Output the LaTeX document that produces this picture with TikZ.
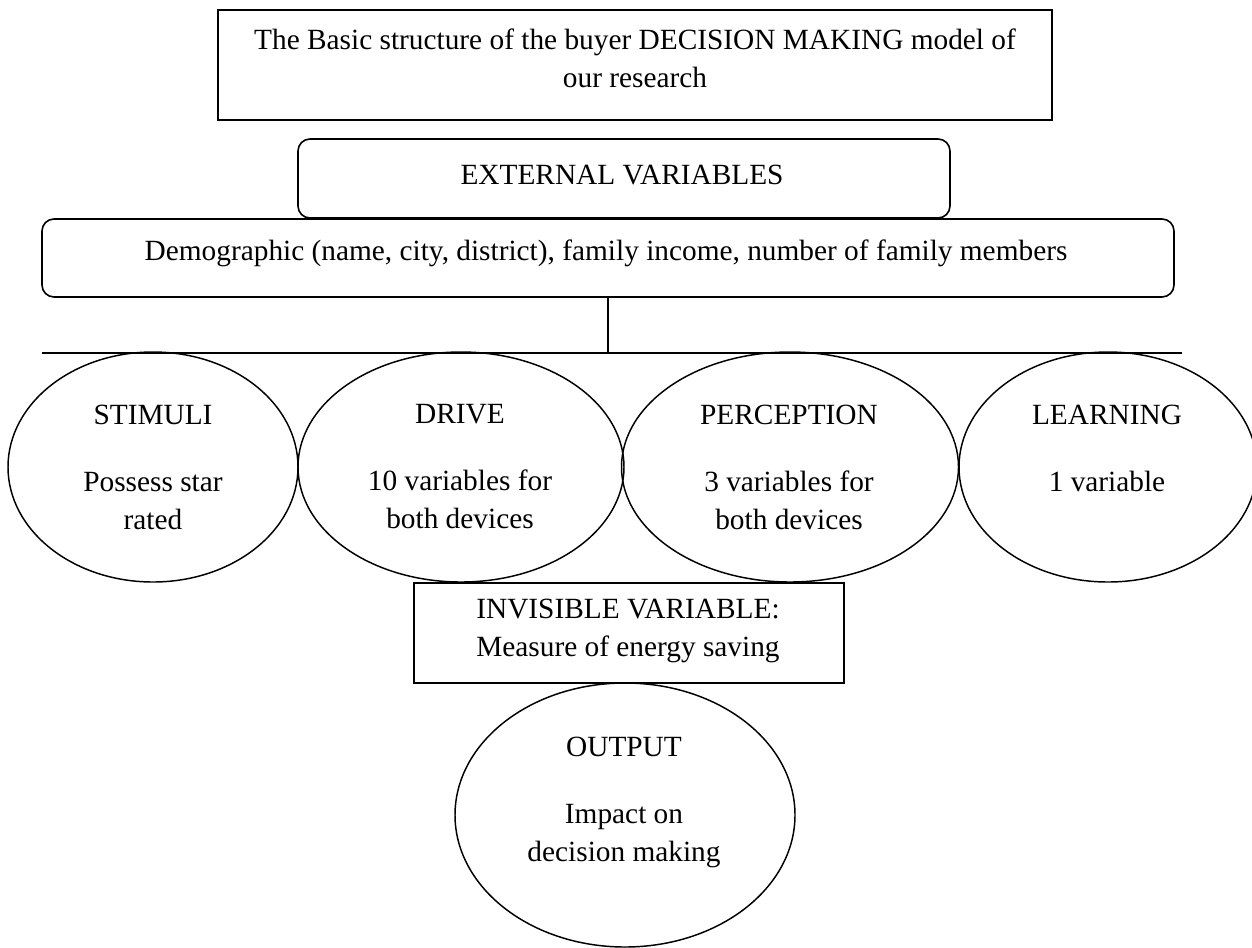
\documentclass[tikz,border=0pt]{standalone}
\usepackage{fontspec}
\setmainfont{Liberation Serif}
\usetikzlibrary{shapes.geometric}
\tikzset{
  shapeline/.style={draw, line width=1.1pt, inner sep=0pt, outer sep=0pt},
  sqbox/.style={shapeline, rectangle, line width=1.5pt},
  rbox/.style={shapeline, rectangle, rounded corners=9pt, line width=1.2pt},
  oval/.style={shapeline, ellipse},
  txt/.style={align=center, font=\fontsize{22pt}{28.5pt}\selectfont, inner sep=0pt},
  conn/.style={line width=1.1pt}
}
\begin{document}
\begin{tikzpicture}[x=0.75pt,y=-0.75pt]
\useasboundingbox (0,0) rectangle (1252,947);
% boxes
\node[sqbox, minimum width=834*0.75pt, minimum height=110*0.75pt] (title) at (635,65) {};
\node[rbox, minimum width=652*0.75pt, minimum height=79*0.75pt] (ext) at (624,178.5) {};
\node[rbox, minimum width=1132*0.75pt, minimum height=78*0.75pt] (demo) at (608,258) {};
\node[sqbox, minimum width=430*0.75pt, minimum height=100*0.75pt] (inv) at (629,633) {};
% ellipses
\node[oval, minimum width=290*0.75pt, minimum height=230*0.75pt] (stim) at (153,467) {};
\node[oval, minimum width=326*0.75pt, minimum height=230*0.75pt] (drive) at (461,467) {};
\node[oval, minimum width=337*0.75pt, minimum height=230*0.75pt] (perc) at (790,467) {};
\node[oval, minimum width=298*0.75pt, minimum height=230*0.75pt] (learn) at (1108,467) {};
\node[oval, minimum width=340*0.75pt, minimum height=264*0.75pt] (out) at (625,815) {};
% connectors
\coordinate (hl) at (42,353);
\coordinate (hr) at (1182,353);
\draw[conn] (hl) -- (hr);
\draw[conn] (demo.south) -- (demo.south |- hl);
% texts
\node[txt] (ttitle) at (635,58) {The Basic structure of the buyer DECISION MAKING model of\\our research};
\node[txt] (text) at (622,175) {EXTERNAL VARIABLES};
\node[txt] (tdemo) at (606,253) {Demographic (name, city, district), family income, number of family members};
\node[txt] (tstim) at (153,467) {STIMULI\\[21.75pt]Possess star\\rated};
\node[txt] (tdrive) at (460,467) {DRIVE\\[21.75pt]10 variables for\\both devices};
\node[txt] (tperc) at (789,467) {PERCEPTION\\[21.75pt]3 variables for\\both devices};
\node[txt] (tlearn) at (1107,467) {LEARNING\\[21.75pt]1 variable\\\mbox{}};
\node[txt] (tinv) at (628,631) {INVISIBLE VARIABLE:\\Measure of energy saving};
\node[txt] (tout) at (624,802) {OUTPUT\\[21.75pt]Impact on\\decision making};
\end{tikzpicture}
\end{document}
